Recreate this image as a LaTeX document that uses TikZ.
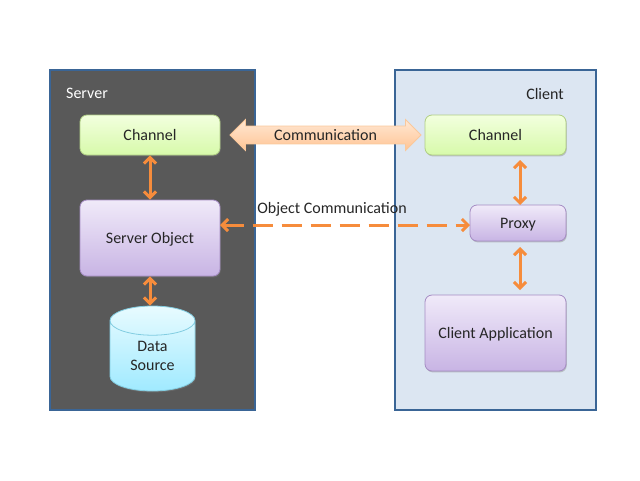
\documentclass[tikz,border=0pt]{standalone}
\usepackage{fontspec}
\setmainfont{Carlito}
\usepackage{tikz}
\usetikzlibrary{positioning, arrows.meta, shapes.arrows, shapes.geometric, shadows}
\definecolor{panelline}{HTML}{3A6596}
\definecolor{flow}{HTML}{F68C3C}
\definecolor{serverfill}{HTML}{595959}
\definecolor{clientfill}{HTML}{DCE6F2}
\definecolor{ink}{HTML}{262626}
\tikzset{
	panel/.style={rectangle, draw=panelline, line width=1.8pt, inner sep=0},
	box/.style={rectangle, rounded corners=7pt, inner sep=0, line width=.8pt, text=ink, text height=11pt, text depth=1pt,
		drop shadow={shadow xshift=.8pt, shadow yshift=-1.4pt, opacity=.4}},
	greenbox/.style={box, draw={rgb,255:red,176;green,206;blue,132}, top color={rgb,255:red,242;green,255;blue,222}, bottom color={rgb,255:red,215;green,250;blue,170}},
	purplebox/.style={box, draw={rgb,255:red,165;green,140;blue,195}, top color={rgb,255:red,240;green,234;blue,249}, bottom color={rgb,255:red,200;green,180;blue,228}},
	link/.style={draw=flow, line width=3pt, {Straight Barb[length=6pt,width=12pt]}-{Straight Barb[length=6pt,width=12pt]}},
	label/.style={inner sep=0}
}
\begin{document}
\begin{tikzpicture}[x=1pt, y=-1pt, every node/.append style={font=\fontsize{16}{19}\selectfont}]
\useasboundingbox (0,0) rectangle (640,480);
\node[panel, fill=serverfill, minimum width=205pt, minimum height=340pt] (server) at (152.5,240) {};
\node[panel, fill=clientfill, minimum width=201pt, minimum height=340pt] (client) at (495.5,240) {};
\node[label, text=white] (serverlabel) at (87,93.5) {Server};
\node[label, text=ink] (clientlabel) at (545,93.5) {Client};
\node[greenbox, minimum width=140pt, minimum height=40pt] (chana) at (150,135) {Channel};
\node[greenbox, minimum width=141pt, minimum height=40pt] (chanb) at (495.5,135) {Channel};
\node[purplebox, minimum width=140pt, minimum height=76pt] (serverobj) at (150,238) {Server Object};
\node[purplebox, minimum width=96pt, minimum height=36pt] (proxy) at (518,223) {Proxy};
\node[purplebox, minimum width=141pt, minimum height=76pt] (clientapp) at (495.5,333) {Client Application};
\node[cylinder, shape border rotate=90, aspect=.66, draw={rgb,255:red,130;green,205;blue,225}, line width=.8pt, align=center,
	minimum width=85pt, minimum height=85pt, inner sep=0, text=ink,
	top color={rgb,255:red,232;green,251;blue,255}, bottom color={rgb,255:red,160;green,234;blue,255},
	drop shadow={shadow xshift=.8pt, shadow yshift=-1.4pt, opacity=.4}] (source) at (152.5,356) {Data\\Source};
\node[double arrow, draw={rgb,255:red,250;green,200;blue,155}, line width=.8pt, top color={rgb,255:red,255;green,232;blue,212}, bottom color={rgb,255:red,255;green,196;blue,148},
	minimum width=30pt, minimum height=191pt, double arrow head extend=6.5pt, inner xsep=0, inner ysep=3pt, text=ink] (comm) at (325.5,135) {Communication};
\node[label, text=ink] (objlabel) at (332,209) {Object Communication};
\coordinate (proxytop) at (520,205);
\coordinate (proxybot) at (520,241);
\coordinate (chanbot) at (520,155);
\coordinate (appltop) at (520,295);
\coordinate (objeast) at (220,225);
\coordinate (proxywest) at (470,225);
\draw[link] (chana.south) -- (serverobj.north);
\draw[link] (serverobj.south) -- (serverobj.south |- source.north);
\draw[link, shorten <=5pt] (chanbot) -- (proxytop);
\draw[link, shorten <=6pt, shorten >=5pt] (proxybot) -- (appltop);
\draw[link, dash pattern=on 20pt off 9pt] (objeast) -- (proxywest);
\end{tikzpicture}
\end{document}
